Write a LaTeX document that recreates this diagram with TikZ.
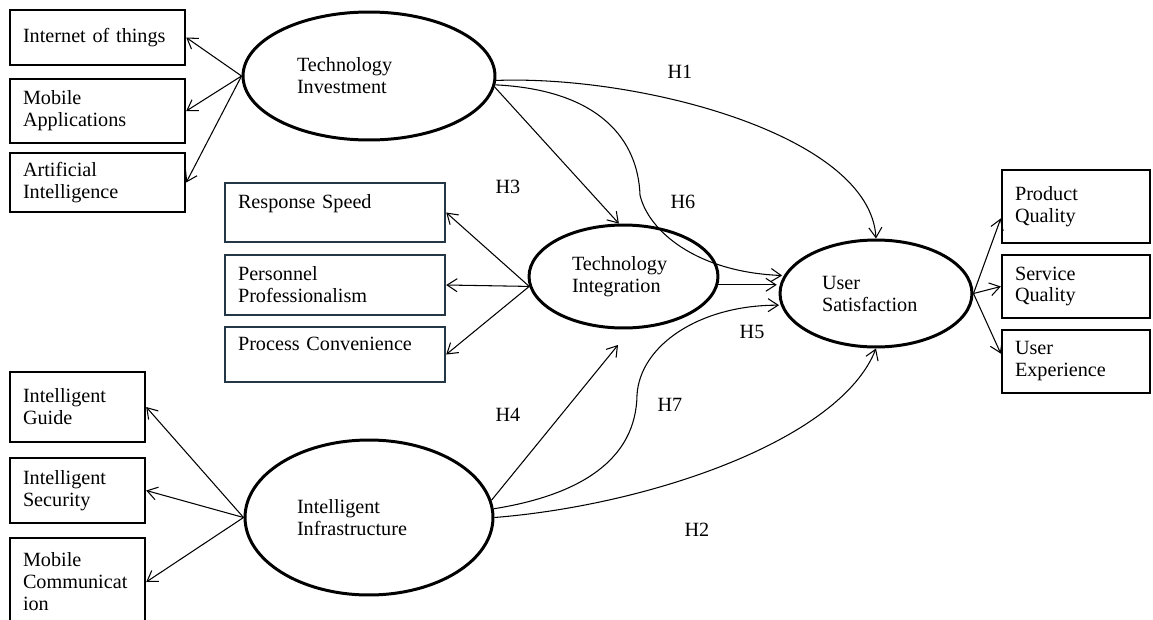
\documentclass[tikz,border=0pt]{standalone}
\usepackage{fontspec}
\setmainfont{Liberation Serif}
\usetikzlibrary{shapes.geometric,arrows.meta}

\definecolor{slate}{RGB}{35,55,70}

\tikzset{%
  construct/.style={
    ellipse, draw, line width=1.7pt,
    inner sep=0pt, align=left
  },
  indicator/.style={
    rectangle, draw, line width=1.4pt,
    inner xsep=0.26cm, inner ysep=0pt, align=left
  },
  hyp/.style={inner sep=0pt},
}

\begin{document}
\begin{tikzpicture}[x=0.02cm, y=-0.02cm, line width=0.6pt,
    >={Straight Barb[length=2mm,width=2.6mm]},
    font=\fontsize{11.5}{12.5}\selectfont]
  \useasboundingbox (0,0) rectangle (1153,619);

  % draw constructs
  \node [construct, minimum width=5.04cm, minimum height=2.56cm, text width=2.88cm] (ti) at (369,76) {Technology\\Investment};
  \node [construct, minimum width=3.78cm, minimum height=2.06cm, text width=2.06cm] (tint) at (623.5,276.5) {Technology\\Integration};
  \node [construct, minimum width=3.84cm, minimum height=2.14cm, text width=2.16cm] (us) at (876,293.5) {User\\Satisfaction};
  \node [construct, minimum width=4.96cm, minimum height=3.1cm, text width=2.88cm] (ii) at (369,517.5) {Intelligent\\Infrastructure};

  % draw indicators
  %technology investment
  \node [indicator, minimum width=3.5cm, minimum height=1.1cm, text width=2.98cm] (iot) at (97.5,37.5) {Internet of things};
  \node [indicator, minimum width=3.5cm, minimum height=1.28cm, text width=2.98cm] (mapp) at (97.5,111) {Mobile\\Applications};
  \node [indicator, minimum width=3.5cm, minimum height=1.18cm, text width=2.98cm] (ai) at (97.5,182.5) {Artificial\\Intelligence};
  %technology integration
  \node [indicator, draw=slate, minimum width=4.4cm, minimum height=1.18cm, text width=3.88cm] (rs) at (335,212.5) {Response Speed\\\mbox{}};
  \node [indicator, draw=slate, minimum width=4.4cm, minimum height=1.2cm, text width=3.88cm] (pp) at (335,285) {Personnel\\Professionalism};
  \node [indicator, draw=slate, minimum width=4.4cm, minimum height=1.1cm, text width=3.88cm] (pc) at (335,354.5) {Process Convenience\\\mbox{}};
  %intelligent infrastructure
  \node [indicator, minimum width=2.7cm, minimum height=1.4cm, text width=2.18cm] (ig) at (77.5,407) {Intelligent\\Guide};
  \node [indicator, minimum width=2.7cm, minimum height=1.3cm, text width=2.18cm] (is) at (77.5,490.5) {Intelligent\\Security};
  \node [indicator, minimum width=2.7cm, minimum height=1.76cm, text width=2.18cm] (mc) at (77.5,582) {Mobile\\Communicat\\ion};
  %user satisfaction
  \node [indicator, minimum width=2.96cm, minimum height=1.46cm, text width=2.44cm] (pq) at (1076,206.5) {Product\\Quality};
  \node [indicator, minimum width=2.96cm, minimum height=1.26cm, text width=2.44cm] (sq) at (1076,286.5) {Service\\Quality};
  \node [indicator, minimum width=2.96cm, minimum height=1.26cm, text width=2.44cm] (ue) at (1076,361.5) {User\\Experience};

  % measurement arrows
  \foreach \b in {iot,mapp,ai}
  \draw [->] (ti.west) -- (\b.east);
  \foreach \b in {rs,pp,pc}
  \draw [->] (tint.186) -- (\b.east);
  \foreach \b in {ig,is,mc}
  \draw [->] (ii.west) -- (\b.east);
  \foreach \b/\a in {pq/189,sq/180,ue/174}
  \draw [->] (us.east) -- (\b.\a);

  % hypotheses
  \coordinate (h4tip) at (618,345);
  \draw [->] (ti.-2) .. controls (640,75) and (870,135) .. (us.north);
  \draw [->] (ii.east) .. controls (650,505) and (840,440) .. (us.south);
  \draw [->] (ti.-5) -- (tint.95);
  \draw [->] (ii.8) -- (h4tip);
  \draw [->, shorten >=1pt] (tint.355) -- (tint.355 -| us.west);
  \draw [->, shorten >=1pt] (ti.-4) .. controls (600,90) and (638,140) .. (640,195)
    .. controls (648,230) and (695,272) .. (us.169);
  \draw [->, shorten >=1pt] (ii.4) .. controls (580,495) and (636,460) .. (637,395)
    .. controls (640,345) and (700,305) .. (us.187);

  \node [hyp] (h1) at (680,72) {H1};
  \node [hyp] (h2) at (697,530) {H2};
  \node [hyp] (h3) at (508,187) {H3};
  \node [hyp] (h4) at (508,415) {H4};
  \node [hyp] (h5) at (752,332) {H5};
  \node [hyp] (h6) at (683,202) {H6};
  \node [hyp] (h7) at (670,405) {H7};

\end{tikzpicture}
\end{document}
